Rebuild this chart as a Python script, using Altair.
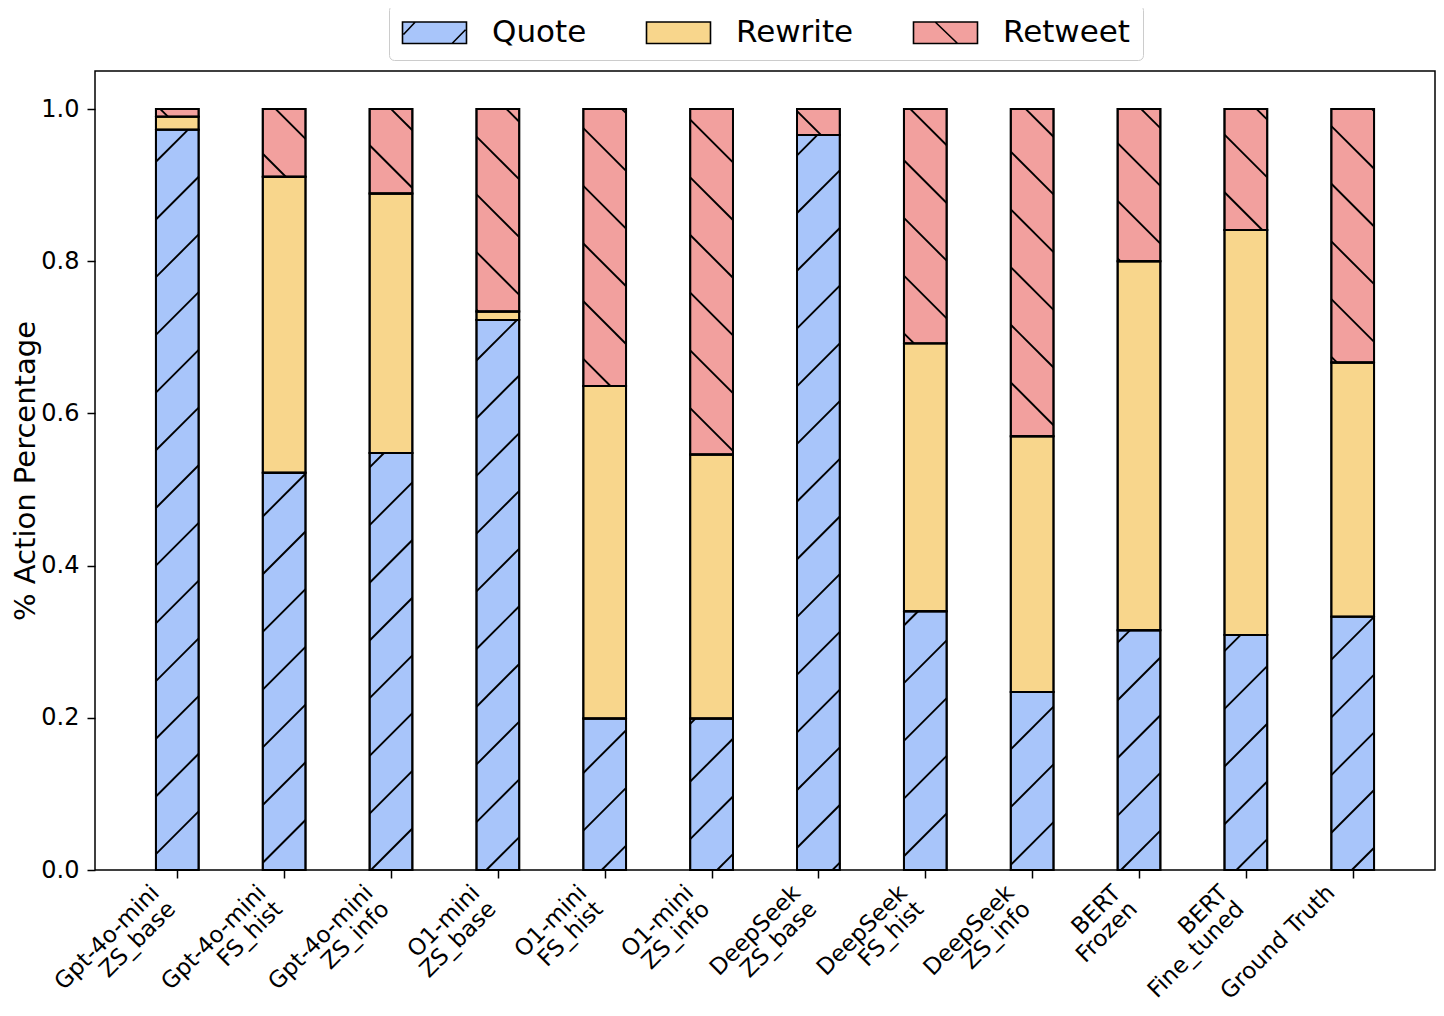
import math
import altair as alt
import pandas as pd

# ---------------- data ----------------
models = [
    "Gpt-4o-mini\nZS_base", "Gpt-4o-mini\nFS_hist", "Gpt-4o-mini\nZS_info",
    "O1-mini\nZS_base", "O1-mini\nFS_hist", "O1-mini\nZS_info",
    "DeepSeek\nZS_base", "DeepSeek\nFS_hist", "DeepSeek\nZS_info",
    "BERT\nFrozen", "BERT\nFine_tuned", "Ground Truth",
]
actions = ["Quote", "Rewrite", "Retweet"]
quote = [0.973, 0.522, 0.548, 0.723, 0.199, 0.199, 0.966, 0.340, 0.234, 0.315, 0.309, 0.333]
rewrite = [0.017, 0.389, 0.341, 0.011, 0.437, 0.347, 0.000, 0.352, 0.336, 0.485, 0.532, 0.334]
retweet = [0.010, 0.089, 0.111, 0.266, 0.364, 0.454, 0.034, 0.308, 0.430, 0.200, 0.159, 0.333]
y_ticks = [0.0, 0.2, 0.4, 0.6, 0.8, 1.0]

# ---------------- style / layout ----------------
colors = ["#a8c5fa", "#f8d68c", "#f2a09e"]
hatches = ["/", "", "\\"]
FONT = "DejaVu Sans"
W, H = 1340, 799
PAD_L, PAD_T, PAD_R, PAD_B = 87, 63, 1, 133
XDOM = [-0.77, 11.77]
YDOM = [0.0, 1.05]
BAR_HALF = 0.2
HATCH_SP = 57.7          # hatch spacing (px)
PH_FWD, PH_BWD = 29.2, 51.3   # hatch phases (px)
LW = 1.9

series = [quote, rewrite, retweet]

# stacked segments
rows = []
for i, m in enumerate(models):
    base = 0.0
    for a, vals in zip(actions, series):
        v = vals[i]
        rows.append({"idx": i, "model": m, "action": a, "x0": i - BAR_HALF, "x1": i + BAR_HALF,
                     "y0": base, "y1": base + v})
        base += v
seg = pd.DataFrame(rows)

# hatch lines, derived from the segments (45 degrees in screen space)
kx = W / (XDOM[1] - XDOM[0])
ky = H / (YDOM[1] - YDOM[0])
ox, oy = 8 + PAD_L, 8 + PAD_T
def to_px(x, y):
    return ox + (x - XDOM[0]) * kx, oy + (YDOM[1] - y) * ky
def to_data(X, Y):
    return (X - ox) / kx + XDOM[0], YDOM[1] - (Y - oy) / ky

hrows = []
for r in rows:
    hat = hatches[actions.index(r["action"])]
    if not hat or r["y1"] - r["y0"] <= 0:
        continue
    xl, ybot = to_px(r["x0"], r["y0"])
    xr, ytop = to_px(r["x1"], r["y1"])
    if hat == "/":
        lo, hi = xl + ytop, xr + ybot
        k0 = math.ceil((lo - PH_FWD) / HATCH_SP)
        k1 = math.floor((hi - PH_FWD) / HATCH_SP)
        for k in range(k0, k1 + 1):
            c = PH_FWD + k * HATCH_SP
            xa, xb = max(xl, c - ybot), min(xr, c - ytop)
            if xb - xa > 0.5:
                p0 = to_data(xa, c - xa)
                p1 = to_data(xb, c - xb)
                hrows.append({"x0": p0[0], "y0": p0[1], "x1": p1[0], "y1": p1[1]})
    else:
        lo, hi = xl - ybot, xr - ytop
        k0 = math.ceil((lo - PH_BWD) / HATCH_SP)
        k1 = math.floor((hi - PH_BWD) / HATCH_SP)
        for k in range(k0, k1 + 1):
            d = PH_BWD + k * HATCH_SP
            xa, xb = max(xl, d + ytop), min(xr, d + ybot)
            if xb - xa > 0.5:
                p0 = to_data(xa, xa - d)
                p1 = to_data(xb, xb - d)
                hrows.append({"x0": p0[0], "y0": p0[1], "x1": p1[0], "y1": p1[1]})
hatch_df = pd.DataFrame(hrows)

# legend symbols: 64x22 px patch with hatch strokes (unit = 14 px, symbolSize 28^2)
legend_paths = [
    "M-1,-0.771H3.571V0.771H-1Z M-0.93,0.13L-0.09,-0.771 M2.54,0.771L3.5,-0.21",
    "M-1,-0.771H3.571V0.771H-1Z",
    "M-1,-0.771H3.571V0.771H-1Z M0.55,-0.771L2.15,0.771",
]

label_names = [m.replace("\n", "|") for m in models]
label_expr = "split([" + ",".join("'" + n + "'" for n in label_names) + "][datum.value], '|')"

xscale = alt.Scale(domain=XDOM, nice=False, zero=False)
yscale = alt.Scale(domain=YDOM, nice=False, zero=False)
cscale = alt.Scale(domain=actions, range=colors)

xaxis = alt.Axis(values=list(range(len(models))), labelExpr=label_expr, labelAngle=315,
                 labelAlign="right", labelBaseline="top", labelOffset=-30, labelPadding=3,
                 labelFontSize=23, labelLineHeight=23, labelOverlap=False, labelFlush=False,
                 labelBound=False, tickSize=8, tickWidth=1.5, tickColor="black",
                 labelColor="black", domain=False, grid=False, title=None)
yaxis = alt.Axis(values=y_ticks, format=".1f", labelFontSize=24, labelPadding=8, tickSize=8,
                 tickWidth=1.5, tickColor="black", labelColor="black", domain=False, grid=False,
                 title="% Action Percentage", titleFontSize=29, titleFontWeight="normal",
                 titleColor="black", titlePadding=0)

leg = alt.Legend(orient="none", legendX=389 - 8 - PAD_L, legendY=7 - 8 - PAD_T - 2,
                 direction="horizontal", title=None,
                 symbolSize=784, symbolStrokeColor="black", symbolStrokeWidth=1.6,
                 symbolOpacity=1, labelFontSize=31, labelFont=FONT, labelColor="black",
                 labelOffset=60, columnPadding=56, padding=12, strokeColor="#cccccc",
                 fillColor="white", cornerRadius=5)

bars = alt.Chart(seg).mark_rect(stroke="black", strokeWidth=LW).encode(
    x=alt.X("x0:Q", scale=xscale, axis=xaxis),
    x2="x1:Q",
    y=alt.Y("y0:Q", scale=yscale, axis=yaxis),
    y2="y1:Q",
    color=alt.Color("action:N", scale=cscale, legend=leg),
)

hatch = alt.Chart(hatch_df).mark_rule(color="black", strokeWidth=LW).encode(
    x="x0:Q", x2="x1:Q", y="y0:Q", y2="y1:Q",
)

outline = alt.Chart(seg).mark_rect(filled=False, stroke="black", strokeWidth=LW).encode(
    x="x0:Q", x2="x1:Q", y="y0:Q", y2="y1:Q",
)

legend_layer = alt.Chart(seg).mark_point(filled=True, strokeWidth=1.6).encode(
    color=alt.Color("action:N", scale=cscale, legend=leg),
    shape=alt.Shape("action:N", scale=alt.Scale(domain=actions, range=legend_paths), legend=leg),
    stroke=alt.Stroke("action:N", scale=alt.Scale(domain=actions, range=["black"] * 3), legend=leg),
).transform_filter("false")

chart = alt.layer(bars, hatch, outline, legend_layer).properties(
    width=W, height=H,
    autosize=alt.AutoSizeParams(type="none"),
    padding={"left": PAD_L, "top": PAD_T, "right": PAD_R, "bottom": PAD_B},
).configure(font=FONT, background="white").configure_view(
    stroke="black", strokeWidth=1.5
)

chart.save("out.html", embed_options={"renderer": "svg", "actions": False})
